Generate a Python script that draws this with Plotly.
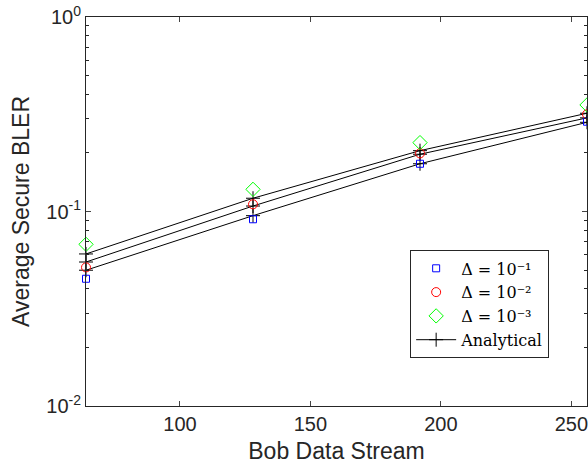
import plotly.graph_objects as go

# Data
bob_streams = [64, 128, 192, 256]
sim_delta_1 = [0.0451, 0.0912, 0.176, 0.2895]   # Δ = 10^-1
sim_delta_2 = [0.0516, 0.1089, 0.199, 0.316]    # Δ = 10^-2
sim_delta_3 = [0.0678, 0.130, 0.226, 0.353]     # Δ = 10^-3
ana_delta_1 = [0.0499, 0.0952, 0.176, 0.2875]
ana_delta_2 = [0.0550, 0.1067, 0.197, 0.303]
ana_delta_3 = [0.0605, 0.117, 0.2055, 0.320]

x_ticks = [100, 150, 200, 250]
y_ticks = [0.01, 0.1, 1]
y_ticktext = ["10<sup>-2</sup>", "10<sup>-1</sup>", "10<sup>0</sup>"]
y_minor = [m * 10**e for e in (-2, -1) for m in range(2, 10)]
legend_names = ["Δ = 10⁻¹", "Δ = 10⁻²", "Δ = 10⁻³", "Analytical"]

sans = "Liberation Sans, Arial, Helvetica, sans-serif"
serif = "DejaVu Serif, Liberation Serif, serif"
axis_color = "#262626"

fig = go.Figure()

# Analytical lines (drawn first, under markers)
for ys in [ana_delta_1, ana_delta_2, ana_delta_3]:
    fig.add_trace(go.Scatter(
        x=bob_streams, y=ys, mode="lines+markers",
        line=dict(color="black", width=1),
        marker=dict(symbol="cross-thin-open", size=10, line=dict(color="black", width=1)),
        name=legend_names[3], showlegend=False, cliponaxis=False,
    ))

fig.add_trace(go.Scatter(
    x=bob_streams, y=sim_delta_1, mode="markers", name=legend_names[0],
    marker=dict(symbol="square-open", size=7, color="#0000ff", line=dict(width=1, color="#0000ff")),
    cliponaxis=False,
))
fig.add_trace(go.Scatter(
    x=bob_streams, y=sim_delta_2, mode="markers", name=legend_names[1],
    marker=dict(symbol="circle-open", size=9, color="#ff0000", line=dict(width=1, color="#ff0000")),
    cliponaxis=False,
))
fig.add_trace(go.Scatter(
    x=bob_streams, y=sim_delta_3, mode="markers", name=legend_names[2],
    marker=dict(symbol="diamond-open", size=11, color="#00ff00", line=dict(width=1, color="#00ff00")),
    cliponaxis=False,
))
# Legend-only entry for analytical
fig.add_trace(go.Scatter(
    x=[None], y=[None], mode="lines+markers", name=legend_names[3],
    line=dict(color="black", width=1),
    marker=dict(symbol="cross-thin-open", size=10, line=dict(color="black", width=1)),
))

fig.update_layout(
    width=588, height=465,
    margin=dict(l=86, r=1, t=17, b=59, autoexpand=False),
    paper_bgcolor="white", plot_bgcolor="white",
    font=dict(family=sans, color=axis_color),
    showlegend=True,
    legend=dict(
        x=0.647, y=0.40, xanchor="left", yanchor="top",
        bgcolor="white", bordercolor=axis_color, borderwidth=1,
        font=dict(family=serif, size=16, color="black"),
        tracegroupgap=0, itemwidth=40,
    ),
    xaxis=dict(
        range=[64, 256], tickvals=x_ticks, ticks="inside", ticklen=5,
        showline=True, linecolor=axis_color, linewidth=1, mirror="ticks",
        showgrid=False, zeroline=False, automargin=False, ticklabeloverflow="allow",
        tickfont=dict(size=20, family=sans, color=axis_color),
        title=dict(text="Bob Data Stream", font=dict(size=23, family=sans, color=axis_color), standoff=8),
    ),
    yaxis=dict(
        type="log", range=[-2, 0], tickvals=y_ticks, ticktext=y_ticktext,
        ticks="inside", ticklen=5,
        minor=dict(tickvals=y_minor, ticks="inside", ticklen=3, tickcolor=axis_color, showgrid=False),
        showline=True, linecolor=axis_color, linewidth=1, mirror="ticks",
        showgrid=False, zeroline=False, automargin=False, ticklabeloverflow="allow",
        tickfont=dict(size=20, family=sans, color=axis_color),
        title=dict(text="Average Secure BLER", font=dict(size=23, family=sans, color=axis_color), standoff=10),
    ),
)

fig.write_html(
    "out.html",
    config={"displayModeBar": False},
    post_script="document.body.style.margin='0';document.body.style.overflow='hidden';",
)
